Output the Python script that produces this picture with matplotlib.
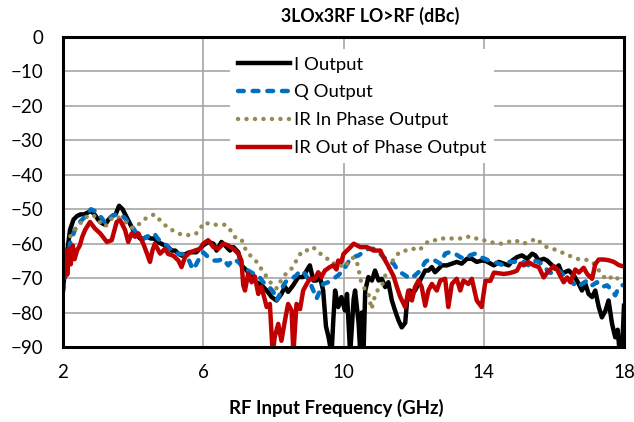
import matplotlib.pyplot as plt

plt.rcParams['font.family'] = ['Lato', 'DejaVu Sans']

# I output (black)
i_ghz = [2.0, 2.1, 2.2, 2.3, 2.4, 2.5, 2.6, 2.7, 2.8, 2.9, 3.0, 3.1, 3.2, 3.3, 3.4, 3.5,
         3.6, 3.7, 3.8, 3.9, 4.0, 4.1, 4.2, 4.3, 4.4, 4.5, 4.6, 4.7, 4.8, 4.9, 5.0, 5.1,
         5.2, 5.3, 5.4, 5.5, 5.6, 5.7, 5.8, 5.9, 6.0, 6.14, 6.29, 6.38, 6.52, 6.62, 6.76,
         6.86, 7.0, 7.09, 7.24, 7.38, 7.52, 7.66, 7.81, 7.95, 8.09, 8.23, 8.33, 8.42, 8.57,
         8.71, 8.85, 8.95, 9.04, 9.14, 9.23, 9.33, 9.42, 9.5, 9.57, 9.66, 9.71, 9.76, 9.85,
         9.94, 10.04, 10.1, 10.19, 10.29, 10.33, 10.43, 10.48, 10.52, 10.57, 10.62, 10.71,
         10.81, 10.9, 11.0, 11.09, 11.19, 11.28, 11.38, 11.47, 11.57, 11.66, 11.76, 11.81,
         11.9, 11.95, 12.04, 12.14, 12.23, 12.33, 12.42, 12.52, 12.61, 12.71, 12.8, 12.95,
         13.09, 13.23, 13.37, 13.52, 13.66, 13.8, 13.94, 14.05, 14.14, 14.29, 14.43, 14.57,
         14.71, 14.81, 14.95, 15.09, 15.24, 15.38, 15.47, 15.57, 15.71, 15.81, 15.95, 16.04,
         16.14, 16.23, 16.33, 16.42, 16.57, 16.71, 16.8, 16.9, 16.99, 17.09, 17.18, 17.28,
         17.37, 17.47, 17.56, 17.66, 17.75, 17.82, 17.88, 17.94, 18.0]
i_db = [-73, -64, -56, -53, -52, -51.5, -51.5, -51, -50.5, -51.5, -53, -54, -54.5, -53, -52,
        -51.5, -49, -50, -52, -54, -56, -57.5, -58.5, -58.5, -58, -58.5, -58.5, -59.5, -60,
        -60.5, -61, -62, -62, -63, -63.5, -63, -62.5, -62.5, -62.5, -61.5, -60.5, -59.5, -60,
        -62, -59.5, -60.5, -62, -61, -62.5, -66.3, -67.8, -69.7, -71.2, -72, -73.6, -75.5,
        -76.5, -74.6, -72.5, -74, -72, -69.7, -69.7, -67.8, -66.3, -70.7, -70.7, -69.7, -73.6,
        -84, -87, -92, -82, -73.6, -78.4, -75.5, -79.4, -74.6, -92, -76, -73.6, -83, -92, -80,
        -92, -73.6, -69.7, -70.7, -67.8, -70.7, -70.2, -72.6, -71.2, -76.5, -79.4, -82.3,
        -84.3, -83, -77, -73.6, -74.6, -73.6, -71.7, -69.7, -67.8, -67.8, -66.8, -68.3, -67.3,
        -66.3, -66.3, -65.8, -65.3, -65.8, -64.4, -64.4, -65.3, -64.9, -65, -65.5, -66.3,
        -65.3, -65.8, -66.3, -64.9, -63.9, -63.4, -64.4, -62.9, -63.4, -64.9, -64.4, -64.9,
        -66.3, -67.3, -66.3, -68.7, -68.2, -67.8, -69.2, -71.7, -73.6, -71.7, -74.6, -75.5,
        -73.6, -78.4, -81.4, -79.5, -76.5, -83.3, -87.2, -85, -92, -92, -78]

# Q output (blue dashed)
q_ghz = [2.0, 2.1, 2.2, 2.3, 2.4, 2.5, 2.6, 2.7, 2.8, 2.9, 3.0, 3.1, 3.2, 3.3, 3.4, 3.5,
         3.6, 3.7, 3.8, 3.9, 4.0, 4.1, 4.2, 4.3, 4.4, 4.5, 4.6, 4.7, 4.8, 4.9, 5.0, 5.1,
         5.2, 5.3, 5.4, 5.5, 5.6, 5.7, 5.8, 5.9, 6.0, 6.14, 6.29, 6.43, 6.57, 6.71, 6.86,
         7.0, 7.14, 7.28, 7.43, 7.57, 7.71, 7.85, 8.0, 8.09, 8.19, 8.28, 8.38, 8.52, 8.66,
         8.76, 8.9, 9.04, 9.14, 9.23, 9.33, 9.42, 9.56, 9.71, 9.85, 9.99, 10.14, 10.29,
         10.43, 10.57, 10.71, 10.86, 11.0, 11.14, 11.28, 11.43, 11.52, 11.62, 11.76, 11.9,
         12.04, 12.19, 12.33, 12.47, 12.61, 12.76, 12.9, 13.04, 13.18, 13.33, 13.47, 13.61,
         13.75, 13.9, 14.04, 14.14, 14.29, 14.43, 14.57, 14.71, 14.86, 15.0, 15.14, 15.28,
         15.43, 15.57, 15.71, 15.85, 16.0, 16.14, 16.28, 16.42, 16.57, 16.71, 16.8, 16.95,
         17.09, 17.23, 17.37, 17.52, 17.66, 17.75, 17.85, 17.94, 18.0]
q_db = [-74, -67, -60, -57, -54.5, -53.5, -52.5, -51, -50, -50.5, -51.5, -52.5, -54, -53,
        -52, -51.5, -51.5, -52, -53, -54.5, -55.5, -57, -58, -58.5, -58, -57.5, -57, -58.5,
        -59.5, -60, -61, -62, -62.5, -63, -63, -63.5, -65, -67.5, -66, -64, -62.5, -63.9,
        -64.9, -64.9, -64.4, -66.3, -64.5, -65.3, -66.8, -67.8, -68.7, -69.2, -71.2, -72.2,
        -74, -76.5, -74.6, -72.2, -70.7, -70.2, -69.2, -67.8, -68.7, -71.2, -73.6, -76,
        -73.6, -71.7, -71.2, -70.2, -69.2, -67.8, -65.3, -63.9, -63.4, -62.4, -61.5, -61.5,
        -62.4, -63.9, -64.9, -65.8, -67.3, -68.3, -69.2, -70.2, -69.2, -67.8, -65.3, -64.4,
        -64.9, -65.8, -62.9, -62.4, -62.9, -63.9, -64.4, -63.4, -62.9, -63.9, -64.4, -64.9,
        -65.3, -65.8, -66.3, -65.3, -65.3, -64.9, -65.3, -66.3, -64.9, -65.3, -66.3, -68.3,
        -68.7, -67.8, -69.2, -70.2, -71.7, -72.6, -71.7, -70.7, -72.1, -71.2, -72.6, -72.1,
        -73.6, -75, -72.6, -72.1, -72]

# IR in phase output (olive dotted), every 0.1 GHz from 2 to 18
ir_in_ghz = [round(2 + 0.1 * k, 1) for k in range(161)]
ir_in_db = [-57, -57.5, -58, -56.5, -55, -54, -53, -52, -51.5, -52,
            -53, -54.5, -55, -54, -52.5, -52, -52.5, -53, -54, -55,
            -55.5, -55, -54, -53, -52.5, -52, -51.5, -52.5, -53.5, -54.5,
            -55.5, -56, -56.5, -57, -57.5, -57.5, -57.5, -57.5, -57, -56,
            -54, -54, -54.5, -54.5, -54.5, -54.5, -54.5, -55, -56.5, -58,
            -59, -59, -61.5, -63, -64, -65, -66.5, -68, -69.5, -71,
            -72.5, -73, -71, -69.5, -68.2, -67.5, -66, -64, -62.5, -62.5,
            -61.5, -61, -61.5, -62.5, -63.5, -64, -65, -65.8, -65.5, -66,
            -67, -66, -64.5, -64, -66, -71, -73, -74, -79, -75,
            -73, -72, -69, -67, -65, -63.5, -62.5, -62, -62, -62,
            -61.5, -62, -61.5, -60.5, -59.5, -59, -59, -59, -58.5, -58.5,
            -58.5, -58.5, -58.5, -58.5, -58.5, -58, -58, -58.5, -58.5, -58.5,
            -59, -59.3, -59.5, -59.8, -60, -60, -59.8, -59.5, -59.2, -59,
            -59.5, -60, -59.8, -59.5, -59, -58.5, -59.5, -60.5, -61, -61.3,
            -61.6, -62, -62.4, -62.9, -63.4, -63.7, -64, -64.5, -64.6, -64.6,
            -65, -65.3, -66.5, -68, -69.3, -70.5, -70, -69.2, -70, -70.7,
            -70.5]

# IR out of phase output (red)
ir_out_ghz = [2.0, 2.03, 2.08, 2.12, 2.18, 2.22, 2.28, 2.33, 2.4, 2.48, 2.55, 2.63, 2.77,
              2.91, 3.06, 3.25, 3.39, 3.53, 3.63, 3.77, 3.86, 3.96, 4.05, 4.15, 4.29, 4.4,
              4.48, 4.55, 4.62, 4.77, 4.91, 5.0, 5.15, 5.29, 5.38, 5.48, 5.62, 5.76, 5.91,
              6.0, 6.14, 6.29, 6.43, 6.57, 6.71, 6.86, 7.0, 7.09, 7.14, 7.19, 7.28, 7.38,
              7.47, 7.57, 7.66, 7.76, 7.81, 7.9, 7.98, 8.04, 8.14, 8.23, 8.33, 8.42, 8.52,
              8.57, 8.66, 8.76, 8.85, 8.95, 9.04, 9.18, 9.28, 9.37, 9.47, 9.61, 9.71, 9.8,
              9.85, 9.94, 10.0, 10.1, 10.2, 10.29, 10.48, 10.67, 10.86, 11.05, 11.14, 11.28,
              11.43, 11.52, 11.62, 11.76, 11.85, 11.95, 12.04, 12.14, 12.23, 12.33, 12.42,
              12.52, 12.66, 12.76, 12.9, 12.99, 13.09, 13.23, 13.33, 13.42, 13.56, 13.66,
              13.8, 13.94, 14.05, 14.19, 14.29, 14.43, 14.57, 14.71, 14.86, 14.95, 15.05,
              15.14, 15.28, 15.43, 15.57, 15.71, 15.81, 15.9, 16.0, 16.09, 16.19, 16.28,
              16.38, 16.47, 16.61, 16.71, 16.85, 16.95, 17.09, 17.18, 17.28, 17.42, 17.56,
              17.71, 17.85, 17.94, 18.0]
ir_out_db = [-64, -70, -62, -69, -61.5, -66, -60.5, -64.5, -62, -60.5, -58, -56, -53.7,
             -55.6, -57, -59.5, -59, -53.7, -53.2, -56, -59.5, -57, -58, -57, -60, -63,
             -65.3, -62, -60, -62.9, -61.5, -63, -63.5, -64.9, -66.8, -63.9, -62.5, -62,
             -61.5, -60, -59, -61, -61.5, -60, -60.5, -61.5, -62.9, -64.9, -72, -73.6,
             -68.7, -71.2, -69.5, -74.6, -72.5, -76.5, -78.4, -77.5, -92, -87, -83.3,
             -88.2, -82.3, -77.5, -79.4, -92, -77.5, -79, -73.6, -71.7, -70.2, -70.2,
             -68.3, -69.7, -67.8, -66.8, -66.3, -67.5, -64.9, -65.3, -63, -62, -61, -60,
             -61, -61, -62, -62, -64, -66.5, -69.5, -72.5, -75.5, -78.4, -73.6, -76.5,
             -72.6, -70.7, -72.6, -78, -73.6, -71.7, -73.6, -70.7, -70.2, -78.4, -71.7,
             -70.2, -73.6, -70.7, -71.7, -70.2, -76.5, -78.4, -70.8, -70.8, -68.4, -68.6,
             -68.8, -68.6, -68.2, -67.8, -65.8, -66.3, -65.4, -66.3, -66.8, -69.8, -68.4,
             -67.5, -66.5, -67.5, -69.5, -71.2, -69.8, -71.2, -67.5, -68.4, -67, -68.8,
             -70.2, -66, -64.6, -64.6, -64.8, -65.3, -66.2, -66.5, -66.5]

fig = plt.figure(figsize=(6.34, 4.22), dpi=100)
ax = fig.add_axes([63 / 634, 1 - 347 / 422, 561 / 634, 310 / 422])

lw = 3.2
ax.plot(i_ghz, i_db, color='black', lw=lw, label='I Output', solid_joinstyle='round')
ax.plot(q_ghz, q_db, color='#0070C0', lw=lw, dashes=(1.3, 2.0),
        dash_capstyle='round', label='Q Output')
ax.plot(ir_in_ghz, ir_in_db, color='#948A54', lw=lw, dashes=(0.01, 1.9),
        dash_capstyle='round', label='IR In Phase Output')
ax.plot(ir_out_ghz, ir_out_db, color='#C00000', lw=lw, label='IR Out of Phase Output',
        solid_joinstyle='round')

ax.set_xlim(2, 18)
ax.set_ylim(-90, 0)
ax.set_xticks([2, 6, 10, 14, 18])
ax.set_yticks(range(-90, 1, 10))
ax.grid(color='#A6A6A6', lw=1.2)
ax.set_axisbelow(True)
ax.tick_params(length=0, labelsize=13.5, colors='black')
ax.tick_params(axis='y', pad=14)
ax.tick_params(axis='x', pad=12)
for s in ax.spines.values():
    s.set_linewidth(2.2)
    s.set_color('black')

leg = ax.legend(loc='upper left', bbox_to_anchor=(221 / 634, 1 - 40 / 422),
                bbox_transform=fig.transFigure, fontsize=13.3, frameon=True,
                fancybox=False, handlelength=2.85, handletextpad=0.22,
                labelspacing=0.64, borderpad=0.4)
leg.get_frame().set_facecolor('white')
leg.get_frame().set_edgecolor('none')
leg.get_frame().set_alpha(1)

fig.text(370 / 634, 1 - 16 / 422, '3LOx3RF LO>RF (dBc)', ha='center', va='center',
         fontsize=12.8, fontweight='bold')
fig.text(336 / 634, 1 - 408 / 422, 'RF Input Frequency (GHz)', ha='center', va='center',
         fontsize=13.4, fontweight='bold')

fig.savefig('out.png', dpi=100)
